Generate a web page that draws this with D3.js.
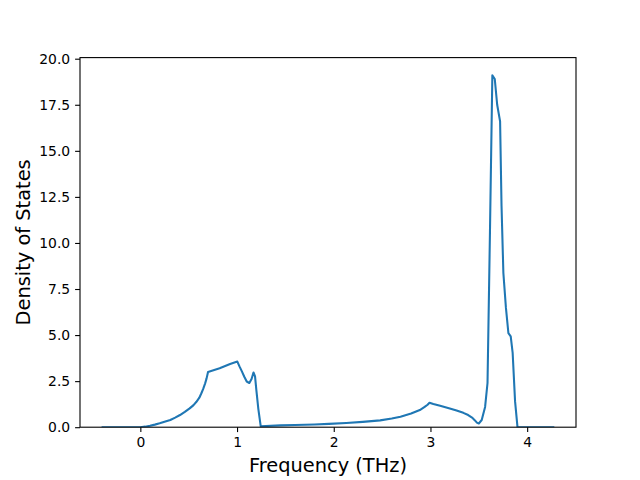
<!DOCTYPE html>
<html>
<head>
<meta charset="utf-8">
<script src="https://cdn.jsdelivr.net/npm/d3@7"></script>
<style>
  body { margin: 0; background: #fff; }
  text { font-family: "DejaVu Sans", sans-serif; }
</style>
</head>
<body>
<svg id="chart" width="640" height="480"></svg>
<script>
const freq = [-0.39, -0.20, 0.00, 0.05, 0.10, 0.15, 0.20, 0.25, 0.31, 0.36, 0.41, 0.46, 0.51, 0.55, 0.58, 0.61, 0.63, 0.65, 0.67, 0.685, 0.70,
  0.82, 0.928, 1.003, 1.025, 1.05, 1.075, 1.10, 1.127, 1.15, 1.17, 1.186, 1.20, 1.22, 1.245,
  1.45, 1.60, 1.80, 1.95, 2.13, 2.30, 2.48, 2.60, 2.69, 2.80, 2.89, 2.94, 2.97, 2.99, 3.03, 3.10, 3.20, 3.27, 3.34, 3.39, 3.43, 3.46, 3.48, 3.50,
  3.53, 3.565, 3.59, 3.615, 3.64, 3.665, 3.69, 3.72, 3.735, 3.754, 3.78, 3.806, 3.83, 3.85, 3.875, 3.90,
  4.00, 4.27];
const dos = [0, 0, 0, 0.03, 0.08, 0.14, 0.21, 0.29, 0.39, 0.52, 0.66, 0.83, 1.02, 1.2, 1.38, 1.6, 1.83, 2.08, 2.38, 2.65, 3.0,
  3.2, 3.43, 3.56, 3.3, 3.03, 2.74, 2.48, 2.4, 2.62, 2.97, 2.76, 2.0, 1.0, 0.05,
  0.1, 0.12, 0.15, 0.18, 0.23, 0.29, 0.37, 0.47, 0.57, 0.74, 0.93, 1.1, 1.22, 1.33, 1.26, 1.16, 1.02, 0.91, 0.78, 0.66, 0.52, 0.37, 0.25, 0.2,
  0.39, 1.1, 2.4, 10.5, 19.1, 18.9, 17.5, 16.6, 12.0, 8.37, 6.5, 5.1, 4.93, 4.03, 1.4, 0,
  0, 0];
const xTicks = [0, 1, 2, 3, 4];
const yTicks = [0, 2.5, 5, 7.5, 10, 12.5, 15, 17.5, 20];
const xLabel = "Frequency (THz)";
const yLabel = "Density of States";

const L = 80, R = 576, T = 57.6, B = 427.2;
const svg = d3.select("#chart");
const x = d3.scaleLinear().domain([-0.624, 4.505]).range([L, R]);
const y = d3.scaleLinear().domain([0, 20.06]).range([B, T]);

const data = freq.map((f, i) => ({f, d: dos[i]}));

svg.append("defs").append("clipPath").attr("id", "clip")
  .append("rect").attr("x", L).attr("y", T).attr("width", R - L).attr("height", B - T);

svg.append("path")
  .datum(data)
  .attr("clip-path", "url(#clip)")
  .attr("fill", "none")
  .attr("stroke", "#1f77b4")
  .attr("stroke-width", 2.08)
  .attr("stroke-linejoin", "round")
  .attr("stroke-linecap", "square")
  .attr("d", d3.line().x(p => x(p.f)).y(p => y(p.d)));

const xAxis = svg.append("g").attr("transform", `translate(0,${B})`)
  .call(d3.axisBottom(x).tickValues(xTicks).tickFormat(d3.format("d")).tickSizeOuter(0).tickSize(4.9).tickPadding(4.9));
const yAxis = svg.append("g").attr("transform", `translate(${L},0)`)
  .call(d3.axisLeft(y).tickValues(yTicks).tickFormat(d3.format(".1f")).tickSizeOuter(0).tickSize(4.9).tickPadding(4.9));
[xAxis, yAxis].forEach(g => {
  g.select(".domain").remove();
  g.selectAll(".tick line").attr("stroke", "#000").attr("stroke-width", 1.1);
  g.selectAll(".tick text").attr("fill", "#000").style("font-size", "13.9px").style("font-family", "DejaVu Sans");
});

svg.append("rect").attr("x", L).attr("y", T).attr("width", R - L).attr("height", B - T)
  .attr("fill", "none").attr("stroke", "#000").attr("stroke-width", 1.1);

svg.append("text").attr("x", (L + R) / 2).attr("y", 472).attr("text-anchor", "middle")
  .style("font-size", "19.4px").text(xLabel);
svg.append("text").attr("transform", `translate(30,${(T + B) / 2}) rotate(-90)`).attr("text-anchor", "middle")
  .style("font-size", "19.4px").text(yLabel);
</script>
</body>
</html>
